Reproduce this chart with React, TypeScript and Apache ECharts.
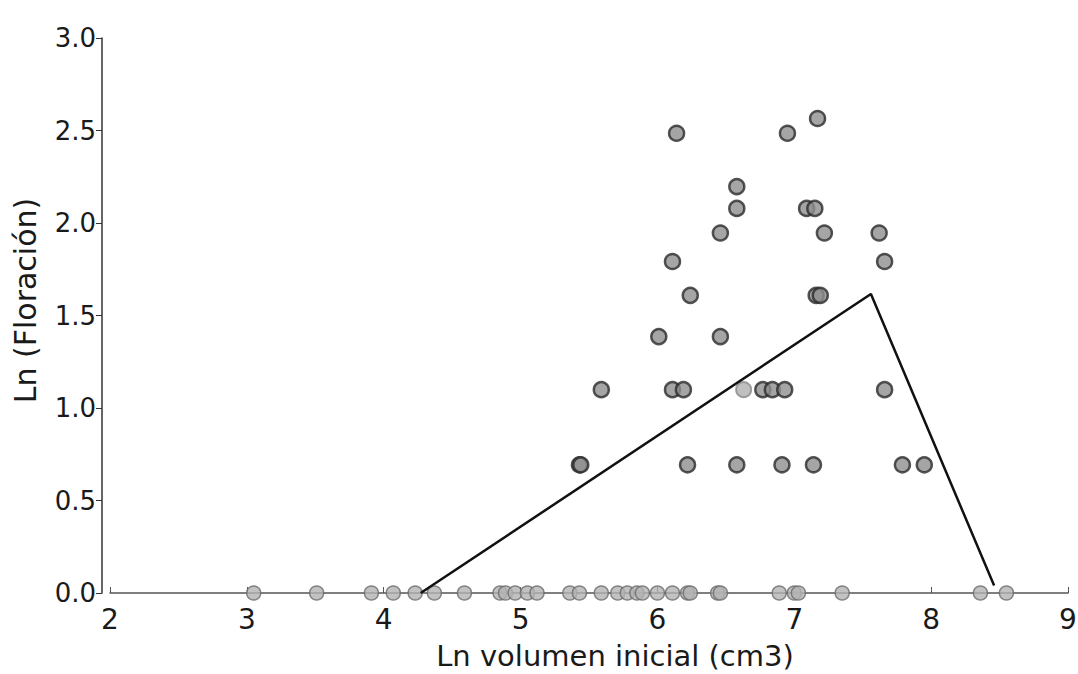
import React, { useEffect, useRef } from "react";
import * as echarts from "echarts";

// Plants that flowered: Ln initial volume vs Ln(flowering)
const flowerX = [
  7.17, 6.14, 6.95, 6.58, 6.58, 7.09, 7.15, 6.46, 7.22, 7.62, 6.11, 7.66,
  6.24, 7.16, 7.19, 6.01, 6.46, 5.59, 6.11, 6.19, 6.77, 6.84, 6.93, 7.66,
  5.43, 5.44, 6.22, 6.58, 6.91, 7.14, 7.79, 7.95,
];
const flowerY = [
  2.565, 2.485, 2.485, 2.197, 2.079, 2.079, 2.079, 1.946, 1.946, 1.946, 1.792, 1.792,
  1.609, 1.609, 1.609, 1.386, 1.386, 1.099, 1.099, 1.099, 1.099, 1.099, 1.099, 1.099,
  0.693, 0.693, 0.693, 0.693, 0.693, 0.693, 0.693, 0.693,
];
// single lighter point
const lightX = [6.63];
const lightY = [1.099];
// Plants with no flowering (Ln = 0)
const zeroX = [
  3.05, 3.51, 3.91, 4.07, 4.23, 4.37, 4.59, 4.85, 4.89, 4.96, 5.05, 5.12,
  5.36, 5.43, 5.59, 5.71, 5.78, 5.85, 5.89, 6.0, 6.11, 6.22, 6.24, 6.44,
  6.46, 6.89, 7.0, 7.03, 7.35, 8.36, 8.55,
];
// fitted piecewise line
const fitX = [4.27, 7.56, 8.46];
const fitY = [0, 1.616, 0.04];

const xTicks = [2, 3, 4, 5, 6, 7, 8, 9];
const yTicks = [0, 0.5, 1.0, 1.5, 2.0, 2.5, 3.0];

const FONT = "DejaVu Sans";

export default function App() {
  const ref = useRef<HTMLDivElement>(null);
  useEffect(() => {
    if (!ref.current) return;
    const chart = echarts.init(ref.current, null, { renderer: "svg" });
    chart.setOption({
      animation: false,
      backgroundColor: "#ffffff",
      grid: {
        left: 110,
        right: 10,
        top: 38,
        bottom: 81,
        containLabel: false,
        outerBoundsMode: "none",
      },
      xAxis: {
        type: "value",
        min: xTicks[0],
        max: xTicks[xTicks.length - 1],
        interval: 1,
        name: "Ln volumen inicial (cm3)",
        nameLocation: "middle",
        nameGap: 48,
        nameTextStyle: { fontFamily: FONT, fontSize: 29, color: "#1a1a1a", padding: [0, 0, 0, 52] },
        axisLine: { show: true, lineStyle: { color: "#555", width: 1.5 } },
        axisTick: { show: true, inside: true, length: 6, lineStyle: { color: "#555" } },
        axisLabel: { fontFamily: FONT, fontSize: 28, color: "#1a1a1a", margin: 12 },
        splitLine: { show: false },
      },
      yAxis: {
        type: "value",
        min: yTicks[0],
        max: yTicks[yTicks.length - 1],
        interval: 0.5,
        offset: 8,
        name: "Ln (Floración)",
        nameLocation: "middle",
        nameGap: 62,
        nameTextStyle: { fontFamily: FONT, fontSize: 30, color: "#1a1a1a", padding: [0, 0, 0, 30] },
        axisLine: { show: true, lineStyle: { color: "#333", width: 1.5 } },
        axisTick: { show: true, length: 6, lineStyle: { color: "#333" } },
        axisLabel: {
          fontFamily: FONT,
          fontSize: 26,
          color: "#1a1a1a",
          margin: 6,
          formatter: (v: number) => v.toFixed(1),
        },
        splitLine: { show: false },
      },
      series: [
        {
          type: "scatter",
          data: zeroX.map((x) => [x, 0]),
          symbolSize: 14,
          itemStyle: { color: "#b3b3b3", borderColor: "#6a6a6a", borderWidth: 1.5 },
          z: 3,
        },
        {
          type: "scatter",
          data: flowerX.map((x, i) => [x, flowerY[i]]),
          symbolSize: 15,
          itemStyle: { color: "#8f8f8f", borderColor: "#2b2b2b", borderWidth: 2.5 },
          z: 3,
        },
        {
          type: "scatter",
          data: lightX.map((x, i) => [x, lightY[i]]),
          symbolSize: 15,
          itemStyle: { color: "#b0b0b0", borderColor: "#8a8a8a", borderWidth: 2 },
          z: 3,
        },
        {
          type: "line",
          data: fitX.map((x, i) => [x, fitY[i]]),
          symbol: "none",
          lineStyle: { color: "#111", width: 2.5 },
          z: 4,
        },
      ],
    });
    return () => chart.dispose();
  }, []);
  return <div ref={ref} style={{ width: 1078, height: 674, position: "absolute", left: 0, top: 0 }} />;
}
